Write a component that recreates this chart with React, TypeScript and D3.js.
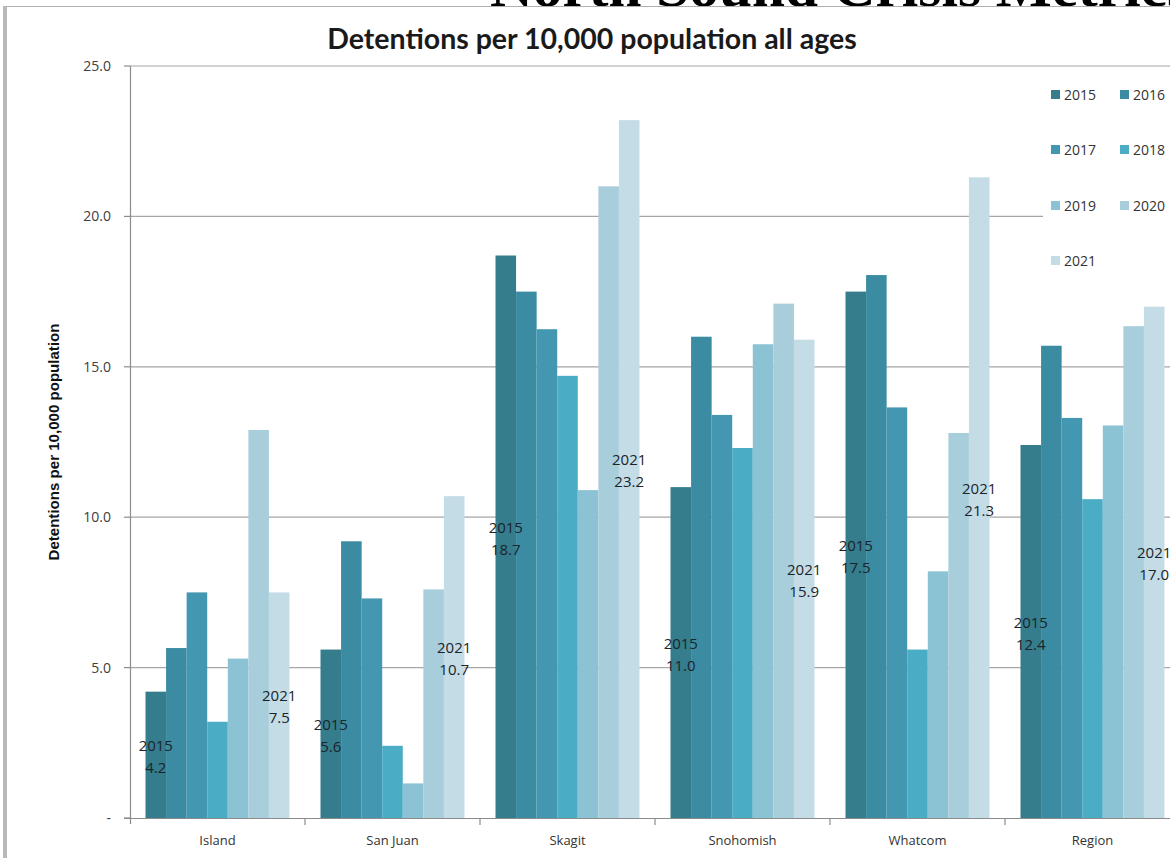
import React from "react";
import * as d3 from "d3";

const categories = ["Island", "San Juan", "Skagit", "Snohomish", "Whatcom", "Region"];
const years = ["2015", "2016", "2017", "2018", "2019", "2020", "2021"];
const v2015 = [4.2, 5.6, 18.7, 11.0, 17.5, 12.4];
const v2016 = [5.65, 9.2, 17.5, 16.0, 18.05, 15.7];
const v2017 = [7.5, 7.3, 16.25, 13.4, 13.65, 13.3];
const v2018 = [3.2, 2.4, 14.7, 12.3, 5.6, 10.6];
const v2019 = [5.3, 1.15, 10.9, 15.75, 8.2, 13.05];
const v2020 = [12.9, 7.6, 21.0, 17.1, 12.8, 16.35];
const v2021 = [7.5, 10.7, 23.2, 15.9, 21.3, 17.0];
const seriesValues = [v2015, v2016, v2017, v2018, v2019, v2020, v2021];
const yTicks = [0, 5, 10, 15, 20, 25];
const colors = ["#357c8c", "#3b8ca3", "#4397b0", "#4bacc6", "#8bc2d4", "#a8cedc", "#c4dce6"];
const labeledYears = ["2015", "2021"];

const W = 1170;
const H = 858;
const font = "'Open Sans', 'Noto Sans', sans-serif";

export default function App() {
  const x0 = d3.scaleBand<string>().domain(categories).range([130, 1180]).padding(0);
  const bw = x0.bandwidth();
  const x1 = d3.scaleBand<string>().domain(years).range([bw * 0.0886, bw * (1 - 0.0886)]).padding(0);
  const y = d3.scaleLinear().domain([0, 25]).range([818, 66]);

  const legendCols = [1051, 1120];
  const legendRows = [95, 150, 206, 261];

  return (
    <div style={{ position: "absolute", left: 0, top: 0 }}>
      <svg width={W} height={H} style={{ display: "block", background: "#fff" }}>
        <rect x={0} y={0} width={W} height={H} fill="#fff" />
        {/* stray slide title, mostly cut off */}
        <text x={490} y={6} fontFamily="'Liberation Serif', serif" fontWeight="bold" fontSize={56}
          textLength={700} lengthAdjust="spacingAndGlyphs" fill="#000">North Sound Crisis Metrics</text>
        {/* frame */}
        <rect x={7} y={6} width={W} height={H} fill="#fff" />
        <line x1={7} x2={W} y1={6.5} y2={6.5} stroke="#b0b0b0" strokeWidth={1} />
        <rect x={3} y={6} width={4} height={H} fill="#b8b8b8" />

        {/* title */}
        <text x={592} y={49} textAnchor="middle" fontFamily="Lato, sans-serif" fontWeight="bold"
          fontSize={28.5} fill="#1a1a1a">Detentions per 10,000 population all ages</text>

        {/* gridlines */}
        {yTicks.filter((t) => t > 0).map((t) => (
          <line key={t} x1={130} x2={W} y1={y(t)} y2={y(t)} stroke="#a6a6a6" strokeWidth={1.2} />
        ))}

        {/* bars */}
        {categories.map((c, ci) => (
          <g key={c} transform={`translate(${x0(c)},0)`}>
            {years.map((yr, si) => {
              const v = seriesValues[si][ci];
              return (
                <rect key={yr} x={x1(yr)} y={y(v)} width={x1.bandwidth()} height={y(0) - y(v)} fill={colors[si]} />
              );
            })}
          </g>
        ))}

        {/* data labels */}
        {categories.map((c, ci) => (
          <g key={c} transform={`translate(${x0(c)},0)`}>
            {years.map((yr, si) => {
              if (!labeledYears.includes(yr)) return null;
              const v = seriesValues[si][ci];
              const cx = (x1(yr) as number) + x1.bandwidth() / 2;
              const cy = (y(v) + y(0)) / 2;
              return (
                <text key={yr} textAnchor="middle" fontFamily={font} fontSize={15} fill="#1a242a">
                  <tspan x={cx} y={cy - 4}>{yr}</tspan>
                  <tspan x={cx} y={cy + 18}>{v.toFixed(1)}</tspan>
                </text>
              );
            })}
          </g>
        ))}

        {/* axes */}
        <line x1={130.5} x2={130.5} y1={66} y2={824} stroke="#8c8c8c" strokeWidth={1.2} />
        <line x1={124} x2={W} y1={818.5} y2={818.5} stroke="#8c8c8c" strokeWidth={1.2} />
        {yTicks.map((t) => (
          <g key={t}>
            <line x1={124} x2={130} y1={y(t)} y2={y(t)} stroke="#8c8c8c" strokeWidth={1.2} />
            <text x={111} y={y(t) + 5} textAnchor="end" fontFamily={font} fontSize={14} fill="#404040">
              {t === 0 ? "-" : t.toFixed(1)}
            </text>
          </g>
        ))}
        {categories.map((c) => (
          <g key={c}>
            <line x1={(x0(c) as number) + bw} x2={(x0(c) as number) + bw} y1={818} y2={825} stroke="#8c8c8c" strokeWidth={1.2} />
            <text x={(x0(c) as number) + bw / 2} y={845} textAnchor="middle" fontFamily={font} fontSize={13} fill="#333">
              {c}
            </text>
          </g>
        ))}
        <text transform="translate(59,442) rotate(-90)" textAnchor="middle"
          fontFamily="'Liberation Sans Narrow', 'Liberation Sans', sans-serif" fontWeight="bold"
          fontSize={15} textLength={237} lengthAdjust="spacingAndGlyphs" fill="#111">Detentions per 10,000 population</text>

        {/* legend */}
        <rect x={1043} y={76} width={140} height={205} fill="#fff" />
        {years.map((yr, i) => {
          const lx = legendCols[i % 2];
          const ly = legendRows[Math.floor(i / 2)];
          return (
            <g key={yr}>
              <rect x={lx} y={ly - 5} width={9} height={9} fill={colors[i]} />
              <text x={lx + 13} y={ly + 5} fontFamily={font} fontSize={14} fill="#333">{yr}</text>
            </g>
          );
        })}
      </svg>
    </div>
  );
}
